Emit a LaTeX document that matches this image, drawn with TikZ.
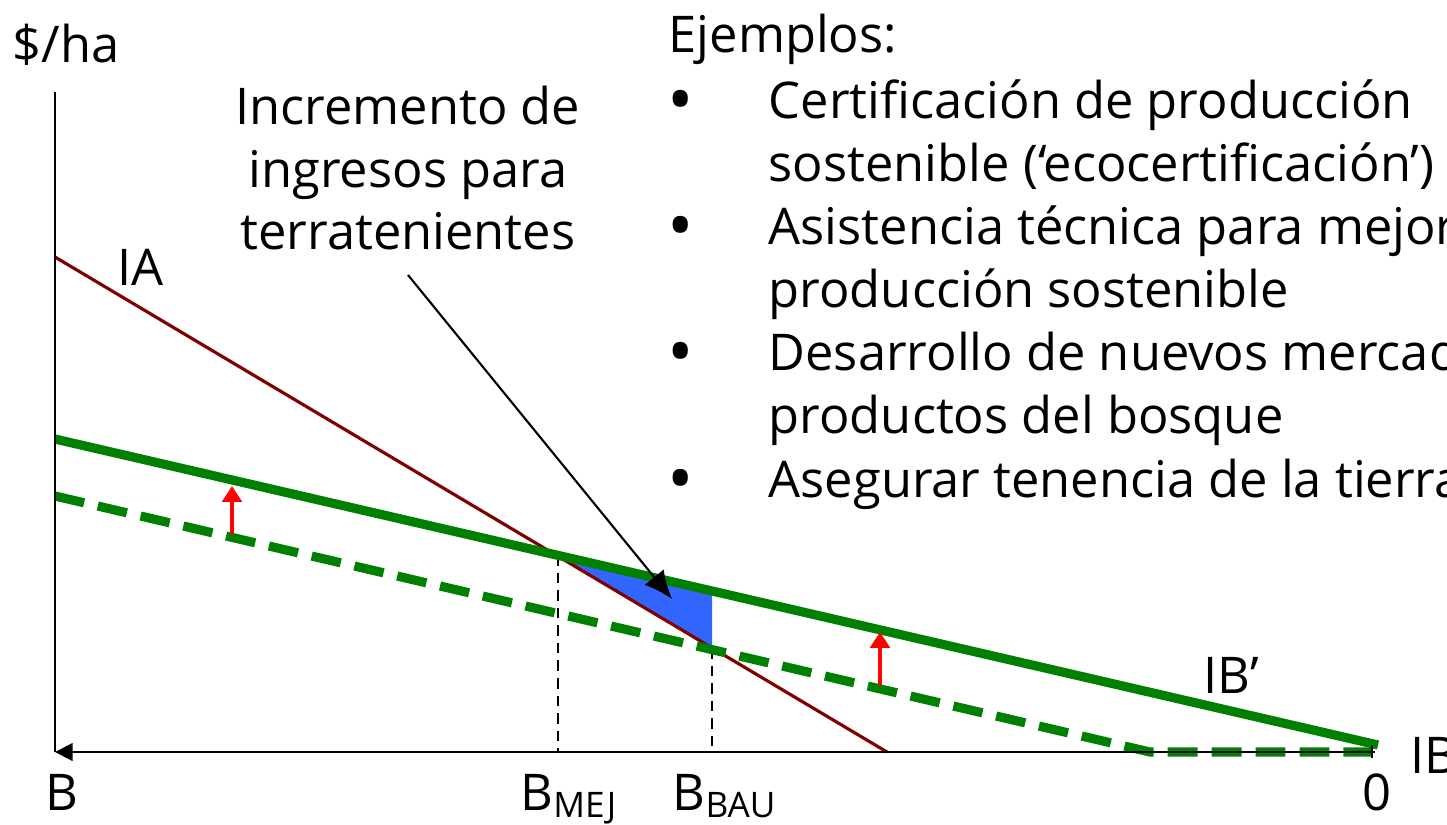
\documentclass[tikz,border=0pt]{standalone}
\usepackage{fontspec}
\setmainfont{Open Sans}
\usepackage{tikz}
\usetikzlibrary{arrows, arrows.meta, positioning}

\definecolor{ibgreen}{HTML}{008000}
\definecolor{iared}{HTML}{800000}
\definecolor{gainblue}{HTML}{3366FF}

\begin{document}
\begin{tikzpicture}[x=0.1mm, y=-0.1mm]
    \tikzset{txt/.style = {font=\fontsize{14.4}{17}\selectfont, inner sep=0pt, anchor=base west}}
    \tikzset{ibline/.style = {draw=ibgreen, line width=2.6pt}}
    \tikzset{guide/.style = {draw=black, line width=0.55pt, dash pattern=on 3pt off 2pt}}
    \tikzset{raise/.style = {draw=red, line width=1.3pt, -{Triangle[length=4.5pt,width=5.5pt]}}}
    \useasboundingbox (0,0) rectangle (1447,824);
    \clip (0,0) rectangle (1447,824);
    % points
    \coordinate (o) at (55,752);
    \coordinate (ytop) at (55,92);
    \coordinate (xend) at (1375,752);
    \coordinate (ia0) at (55,257);
    \coordinate (ia1) at (887,752);
    \coordinate (ibp0) at (55,439);
    \coordinate (ibp1) at (1378,745);
    \coordinate (ib0) at (55,496);
    \coordinate (ibk) at (1150,752);
    \coordinate (ib1) at (1372,752);
    \coordinate (mej) at (558,555);
    \coordinate (mejx) at (558,752);
    \coordinate (bautop) at (712,591);
    \coordinate (bau) at (712,648);
    \coordinate (baux) at (712,752);
    % gain area
    \fill[gainblue] (mej) -- (bautop) -- (bau) -- cycle;
    \draw[guide] (mej) -- (mejx);
    \draw[guide] (bau) -- (baux);
    % curves
    \draw[draw=iared, line width=0.9pt] (ia0) -- (ia1);
    \draw[ibline, dash pattern=on 8.5pt off 4pt] (ib0) -- (ibk) -- (ib1);
    \draw[ibline] (ibp0) -- (ibp1);
    % shifts
    \coordinate (s1a) at (232,534);
    \coordinate (s1b) at (232,486);
    \coordinate (s2a) at (880,685);
    \coordinate (s2b) at (880,632);
    \draw[raise] (s1a) -- (s1b);
    \draw[raise] (s2a) -- (s2b);
    % axes
    \coordinate (tk0) at (1372,745);
    \coordinate (tk1) at (1372,758);
    \draw[line width=0.6pt] (o) -- (ytop);
    \draw[line width=0.6pt, -{Triangle[length=5pt,width=5pt]}] (xend) -- (o);
    \draw[line width=0.5pt] (tk0) -- (tk1);
    % labels
    \node[txt] (ylab) at (12,62) {\$/ha};
    \node[txt] (ialab) at (117,285) {IA};
    \node[txt] (ibplab) at (1203,693) {IB’};
    \node[txt] (iblab) at (1410,773) {IB};
    \node[txt] (blab) at (45,810) {B};
    \node[txt] (mejlab) at (520,810) {B\textsubscript{MEJ}};
    \node[txt] (baulab) at (672,810) {B\textsubscript{BAU}};
    \node[txt] (zerolab) at (1362,810) {0};
    % note
    \node[txt, anchor=base] (note1) at (408,124) {Incremento de};
    \node[txt, anchor=base] (note2) at (408,187) {ingresos para};
    \node[txt, anchor=base] (note3) at (408,249) {terratenientes};
    \coordinate (notept) at (408,275);
    \coordinate (gain) at (672,599);
    \draw[line width=0.6pt, -{Latex[length=8pt,width=7pt]}] (notept) -- (gain);
    % examples
    \node[txt] (ej) at (668,52) {Ejemplos:};
    \node[txt] (e1a) at (768,118) {Certificación de producción};
    \node[txt] (e1b) at (768,181) {sostenible (‘ecocertificación’)};
    \node[txt] (e2a) at (768,244) {Asistencia técnica para mejorar la};
    \node[txt] (e2b) at (768,307) {producción sostenible};
    \node[txt] (e3a) at (768,370) {Desarrollo de nuevos mercados para};
    \node[txt] (e3b) at (768,433) {productos del bosque};
    \node[txt] (e4a) at (768,497) {Asegurar tenencia de la tierra};
    \foreach \y [count=\i] in {124,250,376,503}
        \node[txt, font=\fontsize{20}{20}\selectfont] (dot\i) at (667,\y) {\textbullet};
\end{tikzpicture}
\end{document}
